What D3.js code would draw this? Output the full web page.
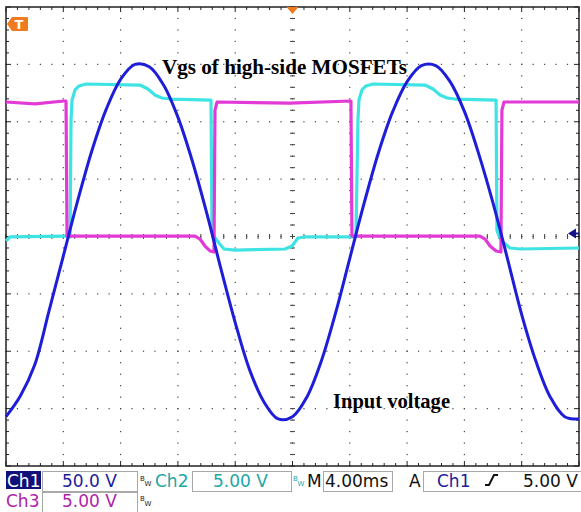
<!DOCTYPE html>
<html>
  <head>
    <script src="https://d3js.org/d3.v7.min.js"></script>
    <style>
      body { margin: 0; background: #fff; }
      svg { display: block; }
    </style>
  </head>
  <body>
    <div id="scope">
      <svg width="581" height="512"></svg>
    </div>

    <script>

      // Ch1 - input voltage (volts), sampled every 1 ms
      const ch1Time = [-20, -19, -18, -17, -16, -15, -14, -13, -12, -11, -10, -9, -8, -7, -6, -5, -4, -3, -2, -1,
                       0, 1, 2, 3, 4, 5, 6, 7, 8, 9, 10, 11, 12, 13, 14, 15, 16, 17, 18, 19, 20];
      const ch1Volts = [-157, -139, -112, -65, -17, 31, 75, 111, 137, 150, 148, 132, 104, 66, 21, -28, -75, -116, -144, -159,
                        -157, -140, -109, -67, -19, 29, 73, 109, 135, 149, 149, 135, 109, 72, 29, -19, -68, -109, -140, -157, -159];

      // Ch2 - Vgs high-side (volts)
      const ch2Time = [-20, -19.72, -15.88, -15.53, -15.46, -15.39, -15.18, -14.9, -14.42, -10.65, -10.09, -9.6, -9.11, -8.55,
                       -5.69, -5.62, -5.48, -5.2, -4.78, -4.01, -0.52, -0.03, 0.38, 0.87, 4.43, 4.57, 4.64, 4.85, 5.13, 5.62,
                       9.25, 9.81, 10.3, 10.79, 11.34, 14.21, 14.27, 14.41, 14.69, 15.18, 15.88, 20];
      const ch2Volts = [-0.39, -0.04, 0.04, -0.04, 10.15, 11.89, 12.77, 13.12, 13.29, 13.2, 12.85, 12.33, 12.07, 11.98,
                        11.89, 0.57, 0.04, -0.48, -1.09, -1.18, -1.09, -0.83, -0.13, -0.04, -0.04, 10.15, 11.89, 12.77, 13.12, 13.29,
                        13.2, 12.85, 12.33, 12.07, 11.98, 11.89, 0.57, 0.04, -0.48, -1.0, -1.09, -1.0];

      // Ch3 - Vgs (volts)
      const ch3Time = [-20, -17.98, -15.95, -15.81, -15.74, -6.81, -6.46, -6.11, -5.76, -5.48, -5.41, -5.27, -0.17, 4.08,
                       4.15, 13.09, 13.44, 13.79, 14.21, 14.55, 14.62, 14.76, 20];
      const ch3Volts = [11.72, 11.55, 11.81, 11.81, 0.04, 0.04, -0.22, -0.83, -1.26, -1.35, 11.02, 11.72, 11.63, 11.81,
                        0.04, 0.04, -0.22, -0.83, -1.26, -1.35, 11.02, 11.72, 11.72];

      const voltsPerDiv = { ch1: 50, ch2: 5, ch3: 5 };
      const timePerDiv = 4;

      const svg = d3.select('#scope').select('svg');

      const x = d3.scaleLinear().domain([-20, 20]).range([6, 579]);
      const yDiv = d3.scaleLinear().domain([-4, 4]).range([466, 7]);

      // ---- graticule ----
      const grid = svg.append('g').attr('fill', '#444');
      const xMajor = d3.range(-20, 21, timePerDiv);
      const xMinor = d3.range(-20, 20.01, timePerDiv / 5);
      const yMajor = d3.range(-4, 5, 1);
      const yMinor = d3.range(-4, 4.01, 0.2);

      xMajor.slice(1, -1).forEach(function (t) {
        yMinor.forEach(function (d) {
          grid.append('rect').attr('x', x(t) - 0.6).attr('y', yDiv(d) - 0.6).attr('width', 1.2).attr('height', 1.2);
        });
      });
      yMajor.slice(1, -1).forEach(function (d) {
        xMinor.forEach(function (t) {
          grid.append('rect').attr('x', x(t) - 0.6).attr('y', yDiv(d) - 0.6).attr('width', 1.2).attr('height', 1.2);
        });
      });

      // centre line ticks
      yMinor.forEach(function (d) {
        grid.append('line').attr('x1', x(0) - 2.5).attr('x2', x(0) + 2.5)
          .attr('y1', yDiv(d)).attr('y2', yDiv(d)).attr('stroke', '#444').attr('stroke-width', 1);
      });
      xMinor.forEach(function (t) {
        grid.append('line').attr('x1', x(t)).attr('x2', x(t))
          .attr('y1', yDiv(0) - 2.5).attr('y2', yDiv(0) + 2.5).attr('stroke', '#444').attr('stroke-width', 1);
      });

      // frame with edge ticks
      const frame = svg.append('g').attr('stroke', '#222').attr('stroke-width', 1);
      frame.append('rect').attr('x', x(-20)).attr('y', yDiv(4)).attr('width', x(20) - x(-20))
        .attr('height', yDiv(-4) - yDiv(4)).attr('fill', 'none').attr('stroke-width', 1.5);
      xMinor.forEach(function (t, i) {
        const len = i % 5 === 0 ? 5 : 3;
        frame.append('line').attr('x1', x(t)).attr('x2', x(t)).attr('y1', yDiv(4)).attr('y2', yDiv(4) + len);
        frame.append('line').attr('x1', x(t)).attr('x2', x(t)).attr('y1', yDiv(-4)).attr('y2', yDiv(-4) - len);
      });
      yMinor.forEach(function (d, i) {
        const len = i % 5 === 0 ? 5 : 3;
        frame.append('line').attr('y1', yDiv(d)).attr('y2', yDiv(d)).attr('x1', x(-20)).attr('x2', x(-20) + len);
        frame.append('line').attr('y1', yDiv(d)).attr('y2', yDiv(d)).attr('x1', x(20)).attr('x2', x(20) - len);
      });

      // ---- traces ----
      function trace(times, volts, vdiv, color, width, curve) {
        const pts = times.map(function (t, i) { return [t, volts[i] / vdiv]; });
        const line = d3.line()
          .x(function (d) { return x(d[0]); })
          .y(function (d) { return yDiv(d[1]); })
          .curve(curve);
        svg.append('path')
          .attr('d', line(pts))
          .attr('fill', 'none')
          .attr('stroke', color)
          .attr('stroke-width', width)
          .attr('stroke-linejoin', 'round');
      }

      trace(ch2Time, ch2Volts, voltsPerDiv.ch2, '#3fe3e3', 3.2, d3.curveLinear);
      trace(ch3Time, ch3Volts, voltsPerDiv.ch3, '#e23ad6', 3.2, d3.curveLinear);
      trace(ch1Time, ch1Volts, voltsPerDiv.ch1, '#1e1ed8', 3, d3.curveCatmullRom);

      // ---- annotations ----
      svg.append('text')
        .attr('x', 162).attr('y', 74)
        .attr('font-family', 'Liberation Serif, Times New Roman, serif')
        .attr('font-weight', 'bold').attr('font-size', 20)
        .attr('textLength', 245).attr('lengthAdjust', 'spacingAndGlyphs')
        .text('Vgs of high-side MOSFETs');

      svg.append('text')
        .attr('x', 333).attr('y', 408)
        .attr('font-family', 'Liberation Serif, Times New Roman, serif')
        .attr('font-weight', 'bold').attr('font-size', 20)
        .attr('textLength', 117).attr('lengthAdjust', 'spacingAndGlyphs')
        .text('Input voltage');

      // ---- markers ----
      const orange = '#f07a1e';
      svg.append('path').attr('d', 'M7,24 L12,17 L27,17 Q28,17 28,18 L28,30 Q28,31 27,31 L12,31 Z').attr('fill', orange);
      svg.append('text').attr('x', 19).attr('y', 29).attr('text-anchor', 'middle')
        .attr('font-family', 'DejaVu Sans, sans-serif').attr('font-weight', 'bold')
        .attr('font-size', 13).attr('fill', '#fff').text('T');

      const xc = x(0);
      svg.append('path').attr('d', `M${xc - 6},7 L${xc + 6},7 L${xc},14 Z`).attr('fill', orange);

      const yz = yDiv(0) - 3;
      svg.append('path').attr('d', `M568,${yz} L576,${yz - 5} L576,${yz + 5} Z`).attr('fill', '#14148a');
      svg.append('line').attr('x1', 575).attr('x2', 579).attr('y1', yz).attr('y2', yz)
        .attr('stroke', '#14148a').attr('stroke-width', 2);

      // ---- status bar ----
      const status = svg.append('g').attr('font-family', 'DejaVu Sans, Verdana, sans-serif').attr('font-size', 17);
      const navy = '#1c1c9c';
      const teal = '#1ea6a6';
      const purple = '#b022a8';

      function box(x0, y0, w, h) {
        status.append('rect').attr('x', x0).attr('y', y0).attr('width', w).attr('height', h)
          .attr('fill', 'none').attr('stroke', '#a8a8a8').attr('stroke-width', 1);
      }
      function label(x0, y0, s, color) {
        return status.append('text').attr('x', x0).attr('y', y0).attr('fill', color).text(s);
      }
      function bw(x0, y0, color) {
        const t = status.append('text').attr('x', x0).attr('y', y0 - 6).attr('font-size', 7).attr('fill', color);
        t.append('tspan').text('B');
        t.append('tspan').attr('dy', 5).text('W');
      }

      status.append('rect').attr('x', 6).attr('y', 471).attr('width', 35).attr('height', 18).attr('fill', '#10107a');
      label(7, 487, 'Ch1', '#ffffff');
      box(42.5, 471.5, 95, 20);
      label(62, 487, '50.0 V', navy);
      bw(140, 487, '#222');

      label(155, 487, 'Ch2', teal);
      box(192.5, 471.5, 99, 20);
      label(213, 487, '5.00 V', teal);
      bw(293, 487, teal);

      label(307, 487, 'M', '#111');
      box(323.5, 471.5, 69, 20);
      label(325, 487, '4.00ms', '#111');

      label(409, 487, 'A', '#111');
      box(423.5, 471.5, 160, 20);
      label(437, 487, 'Ch1', navy);
      status.append('path').attr('d', 'M485,485 L489,485 L494,475 L498,475')
        .attr('fill', 'none').attr('stroke', '#111').attr('stroke-width', 2);
      label(523, 487, '5.00 V', '#111');

      label(6, 507, 'Ch3', purple);
      box(42.5, 492.5, 95, 20);
      label(62, 507, '5.00 V', purple);
      bw(140, 507, '#222');

    </script>
  </body>
</html>
